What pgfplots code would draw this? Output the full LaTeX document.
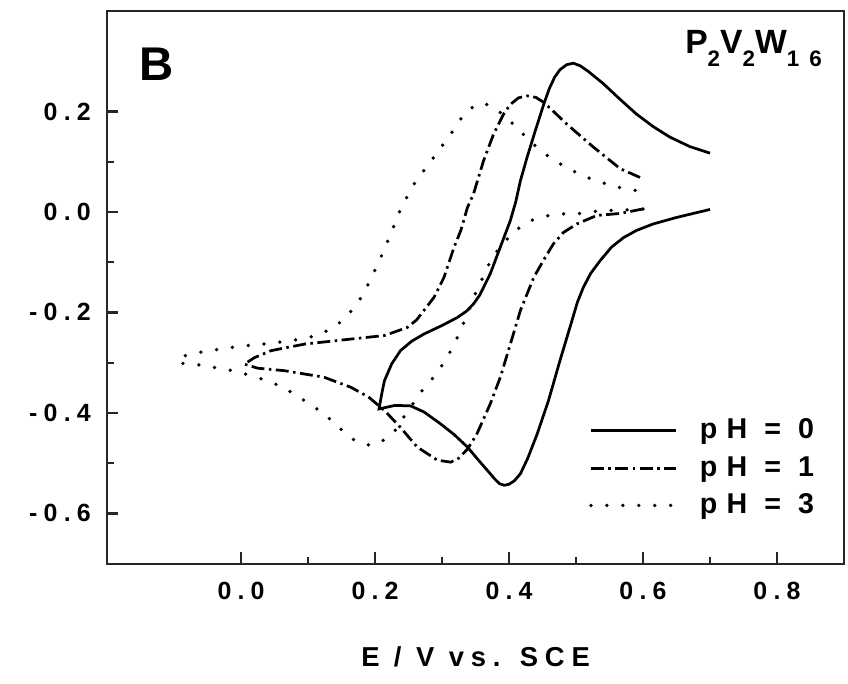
\documentclass[border=0pt]{standalone}
\usepackage{fontspec}
\setmainfont{Liberation Sans}[LetterSpace=25]
\usepackage{pgfplots}
\pgfplotsset{compat=1.18}
\begin{document}
\begin{tikzpicture}
\begin{axis}[
  scale only axis,
  width=296pt, height=222pt,
  xmin=-0.2, xmax=0.9, ymin=-0.7, ymax=0.4,
  xtick={0,0.2,0.4,0.6,0.8}, xticklabels={0.0,0.2,0.4,0.6,0.8},
  ytick={-0.6,-0.4,-0.2,0,0.2}, yticklabels={-0.6,-0.4,-0.2,0.0,0.2},
  minor x tick num=1, minor y tick num=1,
  xtick pos=bottom, ytick pos=left, tick align=inside,
  major tick length=4.5pt, minor tick length=2.6pt,
  axis line style={line width=0.9pt, black!85},
  every tick/.style={line width=0.9pt, black!85},
  tick label style={font=\bfseries\fontsize{10}{12}\selectfont},
  xticklabel style={yshift=-4pt},
  yticklabel style={xshift=-3pt},
  xlabel={E / V vs. SCE},
  xlabel style={font=\bfseries\fontsize{11}{13}\selectfont, yshift=-12pt},
  legend style={draw=none, fill=none, at={(0.977,0.065)}, anchor=south east,
    font=\bfseries\fontsize{11.5}{13}\selectfont\addfontfeature{LetterSpace=32}, row sep=1.5pt},
  legend cell align=left,
  legend image code/.code={\draw[#1] (0pt,0pt) -- (34pt,0pt); \path (41pt,0pt);},
]
% pH = 0
\addplot[black, line width=1.1pt] coordinates {
(0.700,0.005) (0.650,-0.011) (0.615,-0.024) (0.590,-0.037) (0.571,-0.051)
(0.553,-0.070) (0.536,-0.097) (0.522,-0.122) (0.511,-0.150) (0.502,-0.180)
(0.494,-0.216) (0.476,-0.296) (0.459,-0.375) (0.442,-0.442) (0.428,-0.490)
(0.417,-0.521) (0.408,-0.535) (0.400,-0.542) (0.393,-0.544) (0.386,-0.541)
(0.379,-0.532) (0.372,-0.521) (0.355,-0.495) (0.338,-0.468) (0.318,-0.443)
(0.298,-0.422) (0.273,-0.398) (0.253,-0.386) (0.230,-0.385) (0.206,-0.392)
(0.210,-0.362) (0.214,-0.336) (0.225,-0.302) (0.238,-0.276) (0.255,-0.257)
(0.273,-0.243) (0.300,-0.226) (0.323,-0.210) (0.337,-0.197) (0.347,-0.183)
(0.356,-0.166) (0.362,-0.150) (0.372,-0.123) (0.387,-0.070) (0.402,-0.017)
(0.410,0.020) (0.417,0.062) (0.427,0.109) (0.440,0.165) (0.452,0.215)
(0.460,0.245) (0.468,0.268) (0.476,0.283) (0.486,0.293) (0.496,0.296)
(0.506,0.291) (0.518,0.280) (0.530,0.267) (0.541,0.255) (0.565,0.225)
(0.590,0.195) (0.615,0.170) (0.640,0.149) (0.670,0.130) (0.700,0.117)
};
\addlegendentry{pH = 0}
% pH = 1
\addplot[black, line width=1.1pt, dash pattern=on 5.2pt off 1.8pt on 1pt off 1.8pt] coordinates {
(0.600,0.006) (0.566,-0.003) (0.531,-0.007) (0.501,-0.024) (0.481,-0.041)
(0.466,-0.064) (0.452,-0.095) (0.437,-0.130) (0.417,-0.196) (0.402,-0.263)
(0.387,-0.329) (0.372,-0.382) (0.352,-0.442) (0.338,-0.472) (0.325,-0.490)
(0.313,-0.498) (0.293,-0.494) (0.263,-0.468) (0.238,-0.429) (0.214,-0.395)
(0.190,-0.368) (0.164,-0.349) (0.124,-0.329) (0.065,-0.316) (0.025,-0.311)
(0.005,-0.303) (0.020,-0.290) (0.045,-0.276) (0.095,-0.263) (0.164,-0.253)
(0.214,-0.246) (0.248,-0.230) (0.262,-0.215) (0.273,-0.196) (0.288,-0.170)
(0.303,-0.130) (0.318,-0.070) (0.328,-0.037) (0.338,0.009) (0.347,0.036)
(0.362,0.102) (0.377,0.155) (0.392,0.195) (0.402,0.214) (0.414,0.227)
(0.427,0.231) (0.440,0.228) (0.452,0.218) (0.468,0.198) (0.486,0.175)
(0.526,0.129) (0.566,0.086) (0.600,0.066)
};
\addlegendentry{pH = 1}
% pH = 3
\addplot[black, line width=1.5pt, line cap=round, dash pattern=on 0pt off 6.4pt] coordinates {
(0.600,0.006) (0.575,0.004) (0.552,0.003) (0.528,0.001) (0.505,-0.003)
(0.480,-0.004) (0.456,-0.008) (0.433,-0.017) (0.409,-0.037) (0.388,-0.067)
(0.372,-0.098) (0.361,-0.130) (0.350,-0.162) (0.330,-0.228) (0.320,-0.258)
(0.308,-0.289) (0.292,-0.322) (0.271,-0.354) (0.246,-0.402) (0.230,-0.435)
(0.217,-0.452) (0.193,-0.465) (0.169,-0.454) (0.147,-0.430) (0.124,-0.402)
(0.101,-0.381) (0.077,-0.360) (0.054,-0.344) (0.030,-0.332) (0.005,-0.322)
(-0.017,-0.315) (-0.042,-0.309) (-0.065,-0.304) (-0.090,-0.301) (-0.094,-0.290)
(-0.069,-0.281) (-0.047,-0.276) (-0.022,-0.271) (0.001,-0.267) (0.025,-0.264)
(0.049,-0.261) (0.072,-0.256) (0.096,-0.252) (0.119,-0.243) (0.143,-0.226)
(0.164,-0.198) (0.181,-0.167) (0.193,-0.135) (0.205,-0.102) (0.215,-0.070)
(0.225,-0.039) (0.234,-0.006) (0.246,0.026) (0.259,0.057) (0.277,0.090)
(0.295,0.122) (0.312,0.153) (0.328,0.185) (0.348,0.212) (0.360,0.216)
(0.372,0.212) (0.395,0.190) (0.417,0.160) (0.439,0.132) (0.462,0.107)
(0.486,0.088) (0.510,0.072) (0.533,0.061) (0.557,0.051) (0.581,0.044)
(0.600,0.041)
};
\addlegendentry{pH = 3}
\node[font=\bfseries\fontsize{19}{22}\selectfont, anchor=base] at (axis cs:-0.126,0.261) {B};
\node[font=\bfseries\fontsize{13.5}{15}\selectfont\addfontfeature{LetterSpace=45}, anchor=base] at (axis cs:0.765,0.315)
  {P\raisebox{-5.2pt}{\fontsize{9}{10}\selectfont 2}V\raisebox{-5.2pt}{\fontsize{9}{10}\selectfont 2}W\raisebox{-5.2pt}{\fontsize{9}{10}\selectfont 16}};
\end{axis}
\pgfresetboundingbox
\path ([shift={(-43pt,-48.2pt)}]current axis.south west) rectangle ([shift={(1.6pt,4.4pt)}]current axis.north east);
\end{tikzpicture}
\end{document}
